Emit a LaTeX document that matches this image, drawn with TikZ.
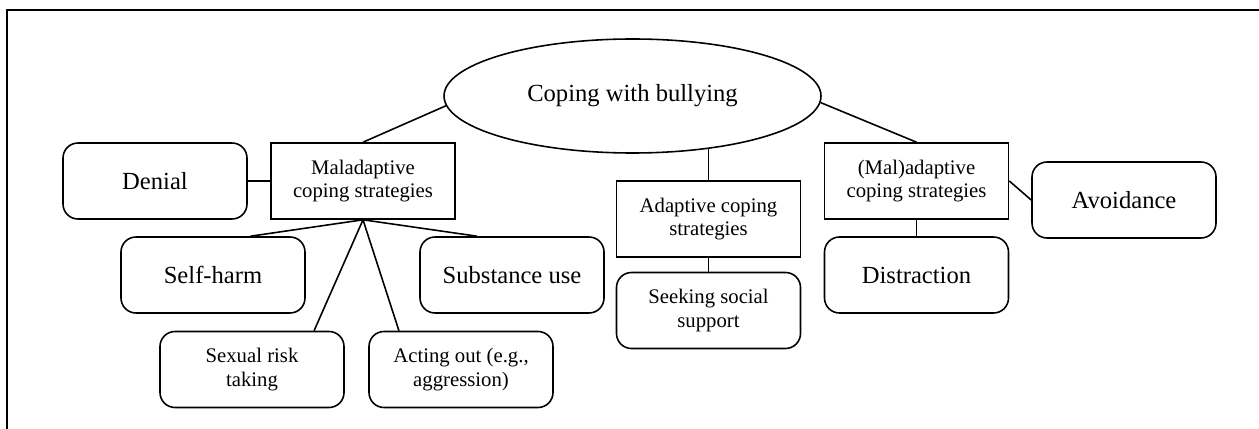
\documentclass[tikz,border=0pt]{standalone}
\usepackage{fontspec}
\setmainfont{Liberation Serif}
\usetikzlibrary{shapes.geometric}
\begin{document}
\begin{tikzpicture}[line width=0.9pt,
  big/.style={font=\fontsize{14pt}{16pt}\selectfont},
  small/.style={font=\fontsize{11.8pt}{13.3pt}\selectfont},
  box/.style={draw,minimum width=3.68cm,minimum height=1.52cm,align=center,inner sep=2pt},
  rbox/.style={box,rounded corners=0.3cm}]
  \useasboundingbox (0,0) rectangle (25.18,-8.58);
  \draw (0.14,-8.58) -- (0.14,-0.20) -- (25.18,-0.20);

  \node[ellipse,draw,minimum width=7.54cm,minimum height=2.28cm,big] (cope) at (12.65,-1.92) {Coping with bullying};

  \node[box,small] (mal) at (7.26,-3.62) {Maladaptive\\coping strategies};
  \node[box,small] (adapt) at (14.17,-4.38) {Adaptive coping\\strategies};
  \node[box,small] (maladapt) at (18.33,-3.62) {(Mal)adaptive\\coping strategies};
  \draw (cope.183) to (mal.north);
  \draw (adapt.north) to (adapt.north |- cope.-34.4);
  \draw (cope.-2) to (maladapt.north);

  \node[rbox,big] (denial) at (3.10,-3.62) {Denial};
  \node[rbox,big] (selfharm) at (4.26,-5.50) {Self-harm};
  \node[rbox,big] (subst) at (10.24,-5.50) {Substance use};
  \node[rbox,small] (sexrisk) at (5.04,-7.39) {Sexual risk\\taking};
  \node[rbox,small] (actout) at (9.22,-7.39) {Acting out (e.g.,\\aggression)};
  \draw (denial) to (mal);
  \draw (mal.south) to (selfharm.46);
  \draw (mal.south) to (subst.132);
  \draw (mal.south) to (sexrisk.32);
  \draw (mal.south) to (actout.148);

  \node[rbox,small] (social) at (14.17,-6.21) {Seeking social\\support};
  \draw (adapt) to (social);

  \node[rbox,big] (distract) at (18.33,-5.50) {Distraction};
  \node[rbox,big] (avoid) at (22.48,-4.00) {Avoidance};
  \draw (maladapt) to (distract);
  \draw (maladapt.east) to (avoid.west);
\end{tikzpicture}
\end{document}
